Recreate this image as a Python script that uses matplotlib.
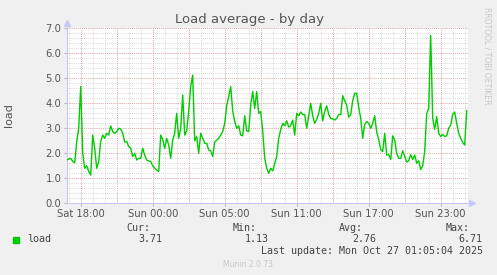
import matplotlib
matplotlib.use('Agg')
import matplotlib.pyplot as plt
import numpy as np

# load values every 10 minutes, starting Sat 16:50 (hours from Sat 18:00 = (k - 7) / 6)
load = [1.73, 1.77, 1.8, 1.67, 1.62, 2.46, 3.0, 4.67, 2.0, 1.4,
        1.5, 1.27, 1.13, 2.73, 2.2, 1.4, 1.67, 2.47, 2.73, 2.6,
        2.8, 2.73, 3.1, 2.87, 2.8, 2.87, 3.0, 2.97, 2.8, 2.45,
        2.47, 2.27, 2.2, 1.87, 2.0, 1.73, 1.8, 1.8, 2.2, 1.93,
        1.73, 1.7, 1.67, 1.5, 1.4, 1.33, 1.27, 2.73, 2.55, 2.2,
        2.6, 2.33, 1.8, 2.53, 2.8, 3.6, 2.6, 3.0, 4.33, 2.73,
        2.9, 3.7, 4.67, 5.13, 2.5, 2.67, 2.0, 2.8, 2.6, 2.4,
        2.4, 2.13, 2.1, 1.87, 2.45, 2.53, 2.6, 2.73, 2.87, 3.2,
        3.9, 4.27, 4.67, 3.7, 3.27, 3.0, 3.1, 2.73, 2.7, 3.5,
        2.9, 2.87, 3.93, 4.47, 3.8, 4.47, 3.6, 3.67, 2.9, 1.8,
        1.4, 1.2, 1.4, 1.3, 1.6, 1.87, 2.6, 2.95, 3.2, 3.1,
        3.3, 3.05, 3.1, 3.33, 2.73, 3.6, 3.5, 3.65, 3.55, 3.55,
        3.0, 3.5, 4.0, 3.5, 3.2, 3.35, 3.6, 4.0, 3.3, 3.67,
        3.9, 3.55, 3.4, 3.38, 3.33, 3.4, 3.55, 3.55, 4.3, 4.1,
        3.93, 3.45, 3.55, 4.1, 4.4, 4.4, 3.85, 3.4, 2.6, 3.15,
        3.27, 3.2, 3.0, 3.2, 3.5, 2.85, 2.55, 2.15, 2.07, 2.8,
        1.93, 1.95, 1.75, 2.7, 2.53, 2.0, 1.8, 1.8, 2.1, 1.87,
        1.65, 1.7, 1.95, 1.75, 1.93, 1.6, 1.7, 1.35, 1.5, 2.07,
        3.6, 3.8, 6.71, 3.4, 2.95, 3.47, 2.8, 2.67, 2.75, 2.67,
        2.7, 3.0, 3.13, 3.55, 3.65, 3.2, 2.8, 2.6, 2.43, 2.33,
        3.71]
hours = [(k - 7) / 6 for k in range(len(load))]

tick_hours = [0, 6, 12, 18, 24, 30]
tick_labels = ['Sat 18:00', 'Sun 00:00', 'Sun 05:00', 'Sun 11:00', 'Sun 17:00', 'Sun 23:00']

stats_names = ['Cur:', 'Min:', 'Avg:', 'Max:']
stats_values = ['3.71', '1.13', '2.76', '6.71']

BG = '#f0f0f0'
TXT = '#555555'

fig = plt.figure(figsize=(4.97, 2.75), dpi=100, facecolor=BG)
ax = fig.add_axes([67 / 497, 1 - 203.3 / 275, 400.7 / 497, 175 / 275])
ax.set_facecolor('white')

ax.set_xlim(-1.142, 32.25)
ax.set_ylim(0, 7.0)

# grid: minor gray, major red
for h in np.arange(-1, 33, 1):
    ax.axvline(h, color='#cccccc', lw=0.6, ls=(0, (1, 1.5)), zorder=1)
for v in np.arange(0.2, 7.01, 0.2):
    ax.axhline(v, color='#cccccc', lw=0.6, ls=(0, (1, 1.5)), zorder=1)
for h in np.arange(-3, 33, 3):
    ax.axvline(h, color='#ee9999', lw=0.6, ls=(0, (1, 1.5)), zorder=2)
for v in np.arange(1, 7.01, 1):
    ax.axhline(v, color='#ee9999', lw=0.6, ls=(0, (1, 1.5)), zorder=2)

ax.plot(hours, load, color='#00cc00', lw=1.0, zorder=3)

for s in ['top', 'right']:
    ax.spines[s].set_visible(False)
for s in ['left', 'bottom']:
    ax.spines[s].set_color('#c8c8ff')
    ax.spines[s].set_linewidth(0.8)
ax.plot([1.01], [0], marker='>', color='#c8c8ff', ms=4, transform=ax.transAxes, clip_on=False)
ax.plot([0], [1.03], marker='^', color='#c8c8ff', ms=4, transform=ax.transAxes, clip_on=False)

ax.set_xticks(tick_hours)
ax.set_xticklabels(tick_labels)
ax.set_yticks(np.arange(0, 7.01, 1.0))
ax.set_yticklabels(['%.1f' % v for v in np.arange(0, 7.01, 1.0)])
ax.tick_params(axis='both', length=2, color='#bbbbbb', labelsize=7.2, labelcolor=TXT, pad=2)

fig.text(250 / 497, 1 - 19 / 275, 'Load average - by day', ha='center', va='center',
         fontsize=9.5, color=TXT)
fig.text(9 / 497, 1 - 115 / 275, 'load', rotation=90, ha='center', va='center',
         fontsize=8, color=TXT)
fig.text(487 / 497, 1 - 7 / 275, 'RRDTOOL / TOBI OETIKER', rotation=-90, ha='center',
         va='top', fontsize=5.5, color='#c8c8c8')

mono = 'DejaVu Sans Mono'
fig.patches.append(plt.Rectangle((13 / 497, 1 - 243 / 275), 6 / 497, 6 / 275,
                                 transform=fig.transFigure, color='#00cc00'))
fig.text(27 / 497, 1 - 239.5 / 275, 'load', family=mono, fontsize=7.2, color='#444444', va='center')
name_x = [150.7, 257, 363, 470]
val_x = [162.7, 269, 376, 482.7]
for nm, vl, nx, vx in zip(stats_names, stats_values, name_x, val_x):
    fig.text(nx / 497, 1 - 228 / 275, nm, family=mono, fontsize=7.2, color='#444444',
             ha='right', va='center')
    fig.text(vx / 497, 1 - 239.5 / 275, vl, family=mono, fontsize=7.2, color='#444444',
             ha='right', va='center')
fig.text(482.7 / 497, 1 - 251 / 275, 'Last update: Mon Oct 27 01:05:04 2025', family=mono,
         fontsize=7.2, color='#444444', ha='right', va='center')
fig.text(248 / 497, 1 - 264.5 / 275, 'Munin 2.0.73', fontsize=5.5, color='#c8c8c8',
         ha='center', va='center')

fig.savefig('out.png', dpi=100, facecolor=BG)
